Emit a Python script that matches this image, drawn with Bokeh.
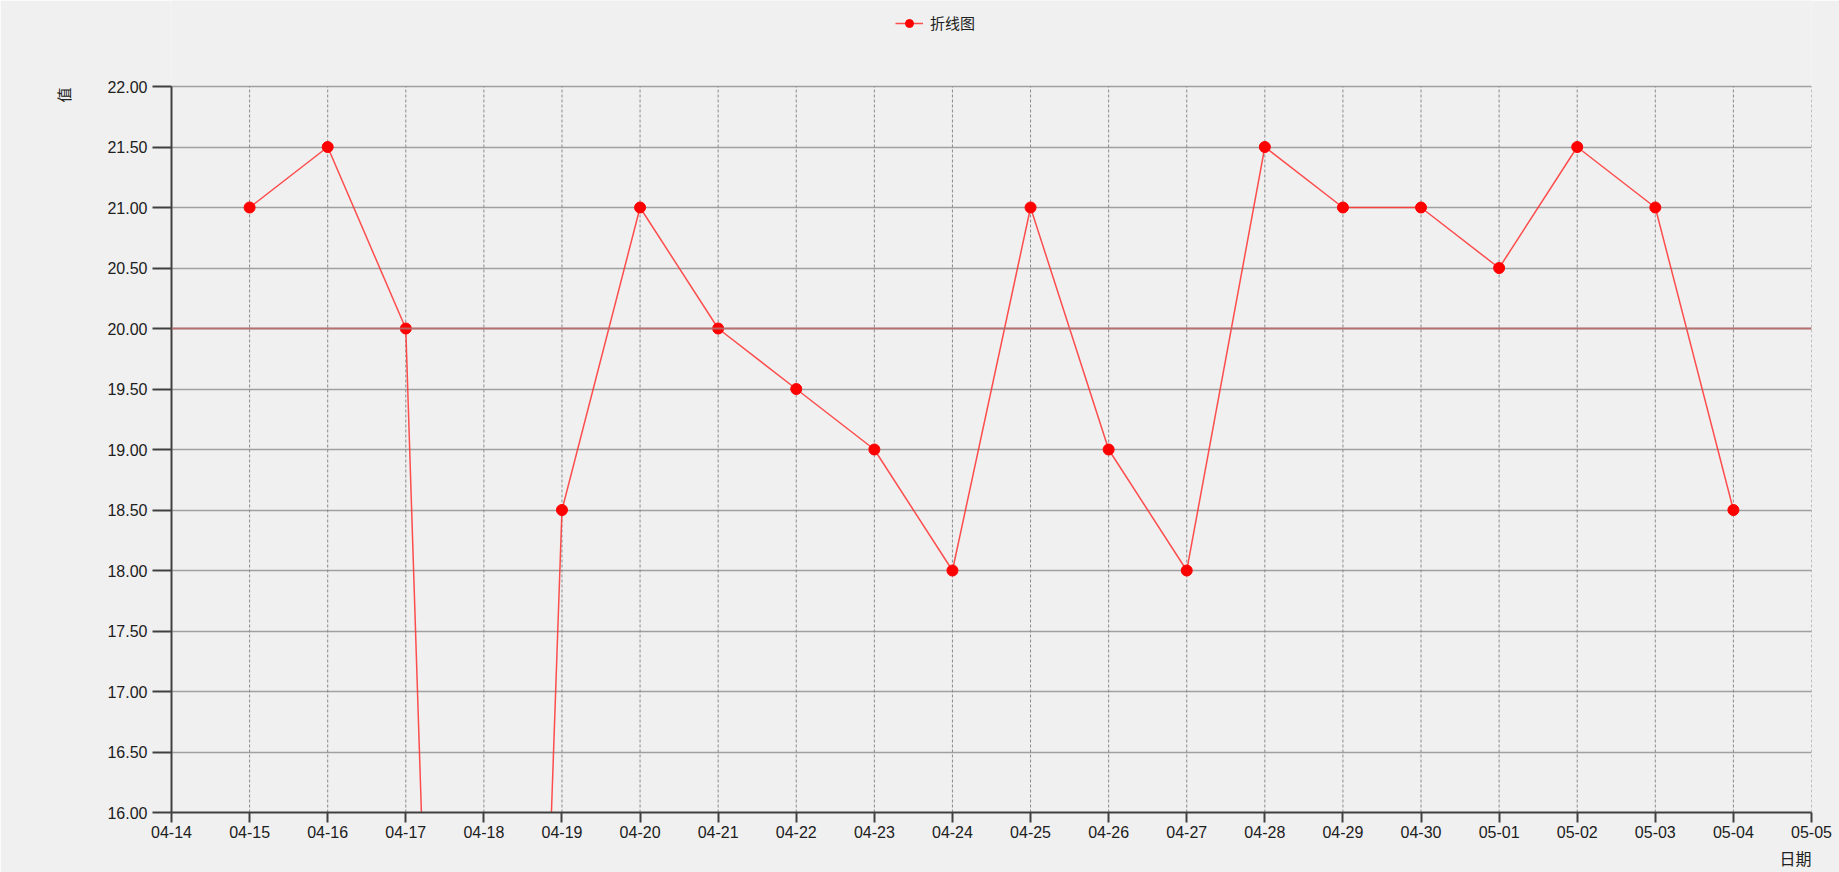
import math
from bokeh.plotting import figure
from bokeh.models import (ColumnDataSource, FixedTicker, Legend, LegendItem, Span, Title)
from bokeh.embed import file_html
from bokeh.resources import INLINE

# ---- data ----
tick_labels = ["04-14", "04-15", "04-16", "04-17", "04-18", "04-19", "04-20", "04-21",
               "04-22", "04-23", "04-24", "04-25", "04-26", "04-27", "04-28", "04-29",
               "04-30", "05-01", "05-02", "05-03", "05-04", "05-05"]
dates = ["04-15", "04-16", "04-17", "04-18", "04-19", "04-20", "04-21", "04-22",
         "04-23", "04-24", "04-25", "04-26", "04-27", "04-28", "04-29", "04-30",
         "05-01", "05-02", "05-03", "05-04"]
values = [21.0, 21.5, 20.0, 0.0, 18.5, 21.0, 20.0, 19.5,
          19.0, 18.0, 21.0, 19.0, 18.0, 21.5, 21.0, 21.0,
          20.5, 21.5, 21.0, 18.5]
y_ticks = [16.0, 16.5, 17.0, 17.5, 18.0, 18.5, 19.0, 19.5, 20.0, 20.5, 21.0, 21.5, 22.0]
threshold = 20.0
series_name = "折线图"
x_title = "日期"
y_title = "值"

xs = [tick_labels.index(d) for d in dates]
src = ColumnDataSource(dict(x=xs, y=values, d=dates))
x_tick_pos = list(range(len(tick_labels)))

BG = "#f0f0f0"
FONT = "Liberation Sans"
CJK = "Noto Sans CJK SC"

W, H = 1839, 872
PLOT_TOP, PLOT_BOTTOM = 86, 812          # pixel rows of the 22.00 and 16.00 lines
y_lo, y_hi = y_ticks[0], y_ticks[-1]
px_per_unit = (PLOT_BOTTOM - PLOT_TOP) / (y_hi - y_lo)
y_end = y_hi + PLOT_TOP / px_per_unit     # frame reaches the top edge (room for legend)

p = figure(width=W, height=H, output_backend="svg", toolbar_location=None,
           x_range=(0, len(tick_labels) - 1), y_range=(y_lo, y_end),
           min_border_left=171, min_border_right=28, min_border_top=0,
           min_border_bottom=H - PLOT_BOTTOM,
           background_fill_color=BG, border_fill_color=BG, outline_line_color=None)

# axes
p.xaxis.ticker = FixedTicker(ticks=x_tick_pos)
p.xaxis.major_label_overrides = {i: t for i, t in enumerate(tick_labels)}
p.yaxis.ticker = FixedTicker(ticks=y_ticks)
p.yaxis.major_label_overrides = {t: f"{t:.2f}" for t in y_ticks}
p.yaxis.bounds = (y_lo, y_hi)
for ax in (p.xaxis[0], p.yaxis[0]):
    ax.axis_line_color = "#404040"
    ax.axis_line_width = 2
    ax.major_tick_line_color = "#404040"
    ax.major_tick_line_width = 2
    ax.major_tick_in = 0
    ax.minor_tick_line_color = None
    ax.major_label_text_font = FONT
    ax.major_label_text_font_size = "16px"
    ax.major_label_text_color = "#202020"
p.xaxis.major_tick_out = 10
p.xaxis.major_label_standoff = 3
p.yaxis.major_tick_out = 19
p.yaxis.major_label_standoff = 5

# grid
p.ygrid.grid_line_color = "#a0a0a0"
p.ygrid.grid_line_width = 1.5
p.xgrid.visible = False
p.segment(x0=x_tick_pos, x1=x_tick_pos, y0=[y_lo] * len(x_tick_pos), y1=[y_hi] * len(x_tick_pos),
          line_color="#8a8a8a", line_width=1, line_dash="3 2")

# threshold line
p.add_layout(Span(location=threshold, dimension="width", line_color="#b86a6a",
                  line_width=2, line_alpha=0.9))

# series
ln = p.line("x", "y", source=src, line_color="#ff3030", line_width=1.5, line_alpha=0.85)
sc = p.scatter("x", "y", source=src, size=11, fill_color="#ff0000", line_color="#ff0000")

legend = Legend(items=[LegendItem(label=series_name, renderers=[ln, sc])],
                location=(724, PLOT_BOTTOM - 33), orientation="horizontal",
                background_fill_alpha=0, border_line_color=None,
                padding=0, margin=0, spacing=0, label_standoff=7,
                glyph_width=28, glyph_height=20, label_height=20,
                label_text_font=CJK, label_text_font_size="15px",
                label_text_color="#202020")
p.add_layout(legend)

# axis titles
p.add_layout(Title(text=y_title, align="right", offset=PLOT_TOP + 1, text_font=CJK,
                   text_font_size="15px", text_font_style="normal", text_color="#202020",
                   standoff=62), "left")
p.add_layout(Title(text=x_title, align="right", text_font=CJK, text_font_size="16px",
                   text_font_style="normal", text_color="#202020", standoff=6), "below")

open("out.html", "w").write(file_html(p, INLINE))
